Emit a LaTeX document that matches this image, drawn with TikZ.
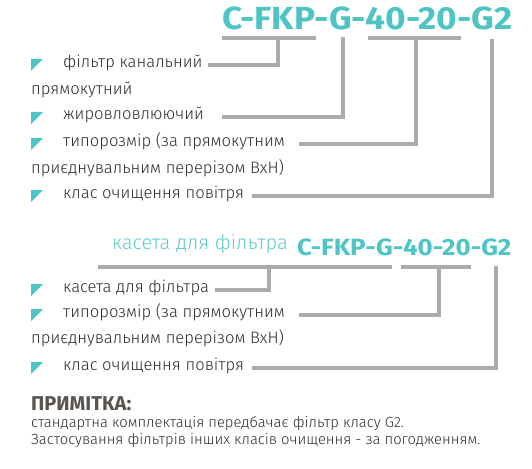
\documentclass[tikz,border=0pt]{standalone}
\usepackage{fontspec}
\usepackage{graphicx}
\setmainfont{Fira Sans Light}
\newfontfamily\codefont{Fira Sans}
\definecolor{tealc}{HTML}{4EC5C4}
\definecolor{teallight}{HTML}{62CBCB}
\definecolor{lgray}{HTML}{ABABAB}
\definecolor{txt}{HTML}{2E2E2E}
\definecolor{notehead}{HTML}{5A5450}
\begin{document}
\begin{tikzpicture}[x=1pt,y=-1pt,
  conn/.style={draw=lgray, line width=4pt},
  bullet/.style={fill=tealc},
  item/.style={anchor=mid west, inner sep=0pt, text=txt, font=\fontsize{16.6}{18}\selectfont},
  note/.style={anchor=mid west, inner sep=0pt, text=txt, font=\fontsize{14.8}{15}\selectfont},
  codetext/.style={anchor=base west, inner sep=0pt, text=tealc}
]
\useasboundingbox[fill=white] (0,0) rectangle (532,468);

% ---------- top block ----------
\node[codetext] (code1) at (222,30) {\resizebox{290pt}{\height}{\codefont\bfseries\fontsize{32}{32}\selectfont C-FKP-G-40-20-G2}};

\fill[bullet] (31,59) -- (43,59) -- (31,71) -- cycle;
\node[item] (t1) at (63,65) {фільтр канальний};
\node[item] (t1b) at (31,92) {прямокутний};
\fill[bullet] (31,112) -- (43,112) -- (31,124) -- cycle;
\node[item] (t2) at (63,117) {жировловлюючий};
\fill[bullet] (31,138) -- (43,138) -- (31,150) -- cycle;
\node[item] (t3) at (63,144) {типорозмір (за прямокутним};
\node[item] (t3b) at (31,171) {приєднувальним перерізом ВхН)};
\fill[bullet] (31,190) -- (43,190) -- (31,202) -- cycle;
\node[item] (t4) at (63,196) {клас очищення повітря};

\coordinate (a1) at (222,38); \coordinate (a2) at (316,38); \coordinate (a3) at (278,38); \coordinate (a4) at (208,65);
\coordinate (b1) at (343,37); \coordinate (b2) at (222,117);
\coordinate (c1) at (368,38); \coordinate (c2) at (461,38); \coordinate (c3) at (416,38); \coordinate (c4) at (299,144);
\coordinate (d1) at (492,39); \coordinate (d2) at (252,196);

\draw[conn] (a1) -- (a2);
\draw[conn] (a3) |- (a4);
\draw[conn] (b1) |- (b2);
\draw[conn] (c1) -- (c2);
\draw[conn] (c3) |- (c4);
\draw[conn] (d1) |- (d2);

% ---------- lower block ----------
\node[codetext] (code2) at (297,255) {\resizebox{214pt}{\height}{\codefont\bfseries\fontsize{23.5}{24}\selectfont C-FKP-G-40-20-G2}};
\node[anchor=mid west, inner sep=0pt, text=teallight, font=\fontsize{20}{20}\selectfont] (cas) at (112,247) {касета для фільтра};

\fill[bullet] (31,284) -- (43,284) -- (31,296) -- cycle;
\node[item] (u1) at (63,290) {касета для фільтра};
\fill[bullet] (31,309) -- (43,309) -- (31,321) -- cycle;
\node[item] (u2) at (63,315) {типорозмір (за прямокутним};
\node[item] (u2b) at (31,341) {приєднувальним перерізом ВхН)};
\fill[bullet] (31,362) -- (43,362) -- (31,374) -- cycle;
\node[item] (u3) at (63,368) {клас очищення повітря};

\coordinate (e1) at (98,267); \coordinate (e2) at (392,267); \coordinate (e3) at (269,267); \coordinate (e4) at (215,290);
\coordinate (f1) at (401,267); \coordinate (f2) at (471,267); \coordinate (f3) at (439,267); \coordinate (f4) at (299,315);
\coordinate (g1) at (496,266); \coordinate (g2) at (252,368);

\draw[conn] (e1) -- (e2);
\draw[conn] (e3) |- (e4);
\draw[conn] (f1) -- (f2);
\draw[conn] (f3) |- (f4);
\draw[conn] (g1) |- (g2);

% ---------- note ----------
\node[anchor=base west, inner sep=0pt, text=notehead, font=\codefont\bfseries\fontsize{20}{20}\selectfont] (nh) at (31,410) {ПРИМІТКА:};
\node[note] (n1) at (31,425) {стандартна комплектація передбачає фільтр класу G2.};
\node[note] (n2) at (31,442) {Застосування фільтрів інших класів очищення - за погодженням.};
\end{tikzpicture}
\end{document}
